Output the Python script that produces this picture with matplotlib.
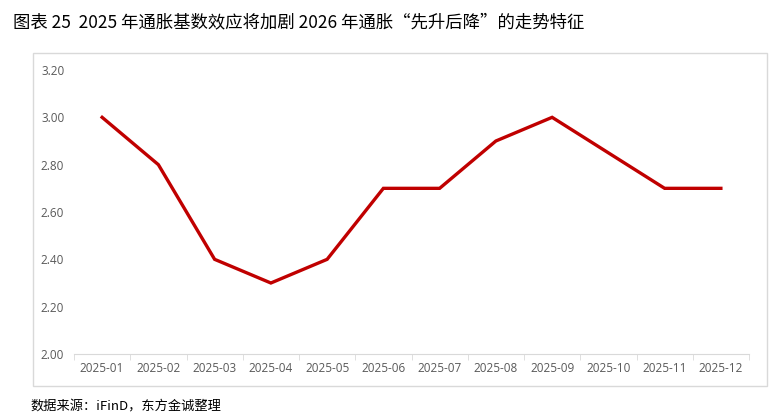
import numpy as np
import matplotlib.pyplot as plt
from matplotlib.patches import Rectangle

plt.rcParams['font.family'] = ['Open Sans', 'Noto Sans CJK SC', 'DejaVu Sans']

months = ['2025-01', '2025-02', '2025-03', '2025-04', '2025-05', '2025-06',
          '2025-07', '2025-08', '2025-09', '2025-10', '2025-11', '2025-12']
values = [3.0, 2.8, 2.4, 2.3, 2.4, 2.7, 2.7, 2.9, 3.0, 2.85, 2.7, 2.7]
yticks = [2.0, 2.2, 2.4, 2.6, 2.8, 3.0, 3.2]

W, H = 774, 417
fig = plt.figure(figsize=(W / 100, H / 100), dpi=100)

# outer border box
fig.patches.append(Rectangle((33 / W, 1 - 386 / H), (767 - 33) / W, (386 - 53) / H,
                             transform=fig.transFigure, fill=False,
                             edgecolor='#D9D9D9', linewidth=1))

ax = fig.add_axes([74 / W, 1 - 354 / H, (749 - 74) / W, (354 - 70) / H])
x = np.arange(len(months))
ax.plot(x, values, color='#C00000', linewidth=2.4, solid_joinstyle='miter')

ax.set_xlim(-0.5, len(months) - 0.5)
ax.set_ylim(2.0, 3.2)
ax.set_yticks(yticks)
ax.set_yticklabels(['%.2f' % v for v in yticks])
ax.set_xticks(x)
ax.set_xticklabels(months)
ax.set_xticks(np.arange(-0.5, len(months), 1), minor=True)

for s in ['top', 'right', 'left']:
    ax.spines[s].set_visible(False)
ax.spines['bottom'].set_color('#D9D9D9')
ax.tick_params(axis='x', which='major', length=0, pad=6, labelsize=8.5, labelcolor='#595959')
ax.tick_params(axis='x', which='minor', length=4, color='#D9D9D9')
ax.tick_params(axis='y', length=0, pad=7, labelsize=8.5, labelcolor='#595959')

fig.text(13 / W, 1 - 22 / H, '图表 25  2025 年通胀基数效应将加剧 2026 年通胀“先升后降”的走势特征',
         fontsize=12.5, family=['Noto Sans CJK SC', 'DejaVu Sans'], va='center', ha='left')
fig.text(30 / W, 1 - 407 / H, '数据来源：iFinD，东方金诚整理',
         fontsize=9.5, family=['Noto Sans CJK SC', 'DejaVu Sans'], va='center', ha='left')

fig.savefig('out.png', dpi=100)
